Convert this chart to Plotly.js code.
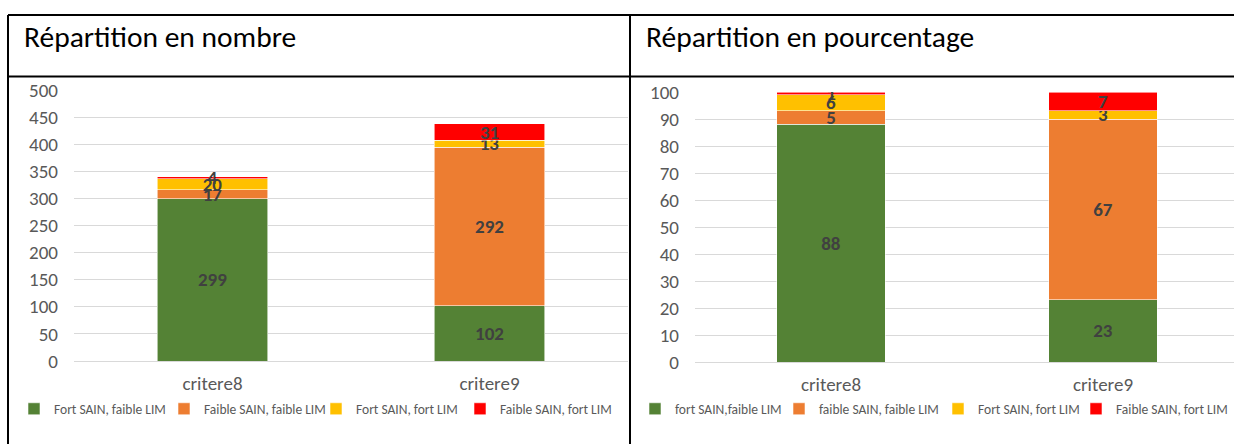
<!DOCTYPE html>
<html>
<head>
<meta charset="utf-8">
<script src="https://cdn.plot.ly/plotly-3.0.1.min.js"></script>
<style>
  html, body { margin: 0; padding: 0; background: #ffffff; overflow: hidden; width: 1234px; height: 444px; }
  #chart { width: 1234px; height: 444px; }
</style>
</head>
<body>
<div id="chart"></div>
<script>
// ---- Data ----
const categories = ["critere8", "critere9"];

// Left chart: counts
const countFortSainFaibleLim   = [299, 102];
const countFaibleSainFaibleLim = [17, 292];
const countFortSainFortLim     = [20, 13];
const countFaibleSainFortLim   = [4, 31];
const countLegendNames = ["Fort SAIN, faible LIM", "Faible SAIN, faible LIM", "Fort SAIN, fort LIM", "Faible SAIN, fort LIM"];

// Right chart: percentages
const pctFortSainFaibleLim   = [88, 23];
const pctFaibleSainFaibleLim = [5, 67];
const pctFortSainFortLim     = [6, 3];
const pctFaibleSainFortLim   = [1, 7];
const pctLegendNames = ["fort SAIN,faible LIM", "faible SAIN, faible LIM", "Fort SAIN, fort LIM", "Faible SAIN, fort LIM"];

const titleLeft = "Répartition en nombre";
const titleRight = "Répartition en pourcentage";

// ---- Styling ----
const colors = ["#548235", "#ED7D31", "#FFC000", "#FF0000"];
const FONT = "Carlito, Lato, 'Open Sans', sans-serif";
const W = 1234, H = 444;
const px = v => v / W;
const py = v => 1 - v / H;

function mk(y, i, name, xa, ya, leg) {
  return {
    type: "bar", x: categories, y: y, name: name,
    xaxis: xa, yaxis: ya, legend: leg,
    width: 0.4,
    marker: { color: colors[i], line: { color: "rgba(255,255,255,0.7)", width: 0.8 } },
    texttemplate: "%{y}",
    textposition: "inside", insidetextanchor: "middle",
    constraintext: "none", textangle: 0,
    insidetextfont: { family: FONT, size: 19, color: "#404040", weight: "bold" },
    hoverinfo: "x+y+name"
  };
}

const countSeries = [countFortSainFaibleLim, countFaibleSainFaibleLim, countFortSainFortLim, countFaibleSainFortLim];
const pctSeries = [pctFortSainFaibleLim, pctFaibleSainFaibleLim, pctFortSainFortLim, pctFaibleSainFortLim];

// one legend box per entry, so each entry sits where the reference shows it
const legendIds = ["legend", "legend2", "legend3", "legend4", "legend5", "legend6", "legend7", "legend8"];
const legendTextX = [54, 204, 356, 500, 675, 819, 978, 1116];

const data = [];
countSeries.forEach((s, i) => data.push(mk(s, i, countLegendNames[i], "x", "y", legendIds[i])));
pctSeries.forEach((s, i) => data.push(mk(s, i, pctLegendNames[i], "x2", "y2", legendIds[4 + i])));

const axisFont = { family: FONT, size: 19, color: "#595959" };
const catFont = { family: FONT, size: 19, color: "#595959" };
const legFont = { family: FONT, size: 13.5, color: "#595959" };

const border = { color: "#000000", width: 2 };
function line(x0, y0, x1, y1) {
  return { type: "line", xref: "paper", yref: "paper", x0: px(x0), y0: py(y0), x1: px(x1), y1: py(y1), line: border };
}

const layout = {
  width: W, height: H, autosize: false,
  margin: { l: 0, r: 0, t: 0, b: 0, pad: 0, autoexpand: false },
  paper_bgcolor: "#ffffff", plot_bgcolor: "#ffffff",
  barmode: "stack", bargap: 0.6,
  showlegend: true,
  xaxis: {
    domain: [px(74), px(628)], anchor: "y",
    tickfont: catFont, ticks: "", ticklabelstandoff: 9,
    showgrid: false, showline: false, zeroline: false, fixedrange: true
  },
  yaxis: {
    domain: [py(361), py(90)], anchor: "x",
    range: [0, 500], dtick: 50, tickfont: axisFont,
    ticks: "", ticklabelstandoff: 15,
    showgrid: true, gridcolor: "#d9d9d9", gridwidth: 1,
    zeroline: true, zerolinecolor: "#d9d9d9", zerolinewidth: 1,
    showline: false, fixedrange: true
  },
  xaxis2: {
    domain: [px(695), 1], anchor: "y2",
    range: [-0.5, 1.5 - 5 / 272],
    tickfont: catFont, ticks: "", ticklabelstandoff: 9,
    showgrid: false, showline: false, zeroline: false, fixedrange: true
  },
  yaxis2: {
    domain: [py(362), py(92)], anchor: "x2",
    range: [0, 100], dtick: 10, tickfont: axisFont,
    ticks: "", ticklabelstandoff: 15,
    showgrid: true, gridcolor: "#d9d9d9", gridwidth: 1,
    zeroline: true, zerolinecolor: "#d9d9d9", zerolinewidth: 1,
    showline: false, fixedrange: true
  },
  annotations: [
    { text: titleLeft, xref: "paper", yref: "paper", x: px(22), y: py(37), xanchor: "left", yanchor: "middle",
      showarrow: false, font: { family: FONT, size: 29.5, color: "#000000" } },
    { text: titleRight, xref: "paper", yref: "paper", x: px(644), y: py(37), xanchor: "left", yanchor: "middle",
      showarrow: false, font: { family: FONT, size: 29.5, color: "#000000" } }
  ],
  shapes: [
    line(8, 15, 1234, 15),
    line(8, 76.5, 1234, 76.5),
    line(8, 15, 8, 444),
    line(630, 15, 630, 444)
  ]
};

legendIds.forEach((id, i) => {
  layout[id] = {
    orientation: "h", x: px(legendTextX[i] - 40), xanchor: "left", y: py(409), yanchor: "middle",
    font: legFont, traceorder: "normal", bgcolor: "rgba(0,0,0,0)", borderwidth: 0
  };
});

Plotly.newPlot("chart", data, layout, { displayModeBar: false, staticPlot: true });
</script>
</body>
</html>
